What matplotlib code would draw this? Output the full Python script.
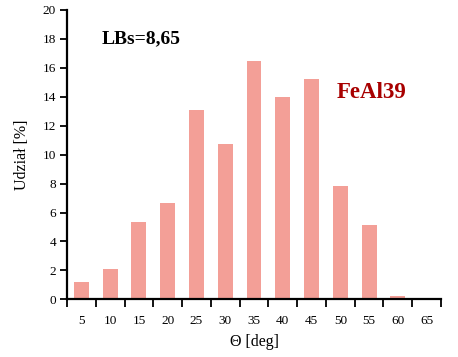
import numpy as np
import matplotlib.pyplot as plt

plt.rcParams['font.family'] = ['Liberation Serif', 'DejaVu Serif']

# dados
angles = ['5', '10', '15', '20', '25', '30', '35', '40', '45', '50', '55', '60', '65']
shares = [1.2, 2.1, 5.35, 6.65, 13.1, 10.75, 16.5, 14.0, 15.25, 7.8, 5.15, 0.25, 0.0]

fig = plt.figure(figsize=(4.58, 3.57), dpi=100)
ax = fig.add_axes([0.1463, 0.1616, 0.8166, 0.8104])

pos = np.arange(len(angles)) + 0.5
ax.bar(pos, shares, width=0.52, color='#f39f97')

ax.set_xlim(0, len(angles))
ax.set_ylim(0, 20)

# ticks nas bordas, rótulos no centro
ax.set_xticks(np.arange(len(angles) + 1))
ax.set_xticklabels([])
ax.set_xticks(pos, minor=True)
ax.set_xticklabels(angles, minor=True)
ax.tick_params(axis='x', which='major', direction='out', length=6, width=1.3)
ax.tick_params(axis='x', which='minor', length=0, pad=11, labelsize=9.5)
ax.set_yticks(range(0, 21, 2))
ax.tick_params(axis='y', direction='out', length=5, width=1.3, labelsize=9.5, pad=3)

for s in ['top', 'right']:
    ax.spines[s].set_visible(False)
for s in ['left', 'bottom']:
    ax.spines[s].set_linewidth(1.6)

ax.set_ylabel('Udział [%]', fontsize=11.5, labelpad=9)
ax.set_xlabel('Θ [deg]', fontsize=11.5, labelpad=5)

ax.text(1.22, 18.0, 'LBs=8,65', fontsize=14, fontweight='bold', va='center')
ax.text(9.37, 14.3, 'FeAl39', fontsize=16.5, fontweight='bold', color='#a80000', va='center')

plt.savefig('out.png', dpi=100)
